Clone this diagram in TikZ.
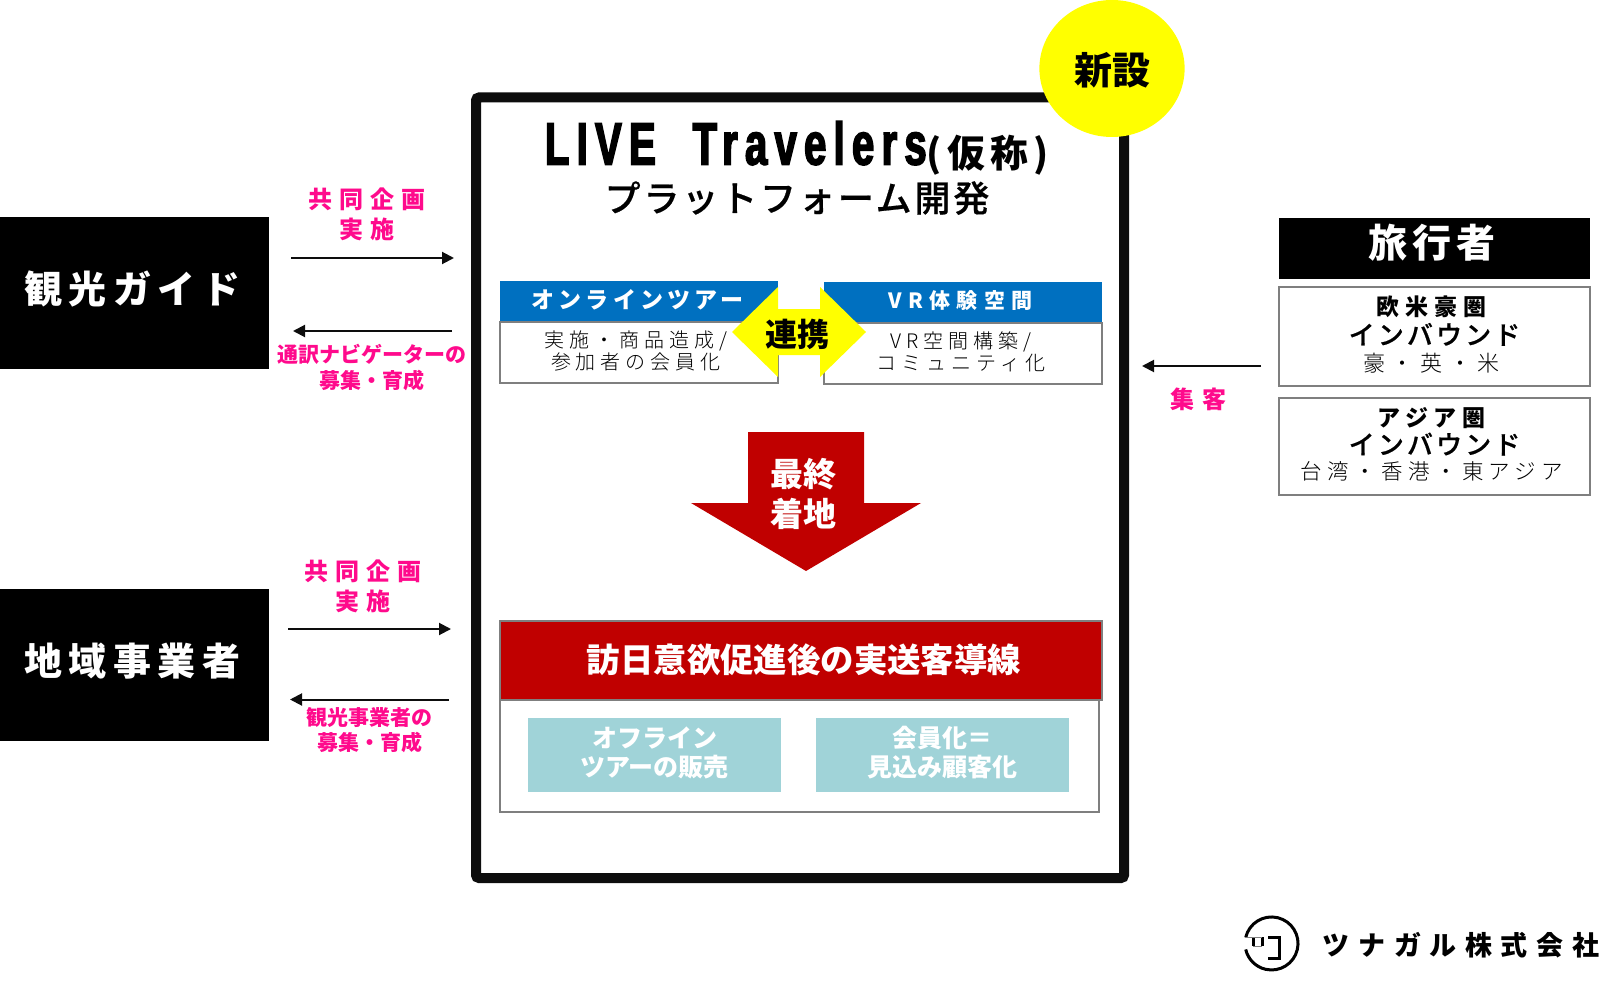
\documentclass[tikz,border=0pt]{standalone}
\usepackage{fontspec}
\usetikzlibrary{arrows.meta}
\setmainfont{Noto Sans CJK JP}
\newfontfamily\titlefont[FakeStretch=0.67,FakeBold=2.5,LetterSpace=12]{Liberation Sans}
\newfontfamily\lightfont{Noto Sans CJK JP Light}
\newfontfamily\mediumfont[FakeBold=0.5]{Noto Sans CJK JP Medium}
\newcommand{\txt}[3]{\fontsize{#1}{#2}\selectfont\addfontfeature{LetterSpace=#3}}
\newcommand{\up}[2]{\raisebox{#1}[\height][\depth]{#2}}
\definecolor{framecol}{HTML}{0D0D0D}
\definecolor{pinkcol}{HTML}{FF0A8C}
\definecolor{bluecol}{HTML}{0070C0}
\definecolor{redcol}{HTML}{C00000}
\definecolor{tealcol}{HTML}{A0D3D8}
\definecolor{graycol}{HTML}{7F7F7F}
\definecolor{yellowcol}{HTML}{FFFF00}
\tikzset{
	blackbox/.style={fill=black,text=white,inner sep=0pt,font=\bfseries\txt{38}{44}{17}},
	whitebox/.style={draw=graycol,line width=2pt,fill=white,inner sep=0pt,align=center},
	bluehead/.style={fill=bluecol,text=white,inner sep=0pt,minimum width=278pt,minimum height=41pt},
	tealbox/.style={fill=tealcol,text=white,inner sep=0pt,align=center,minimum width=253pt,minimum height=74pt,font=\bfseries\txt{25}{30}{0}},
	pinklabel/.style={text=pinkcol,inner sep=0pt,align=center},
	flow/.style={draw=framecol,line width=2pt,-{Triangle[length=12pt,width=12pt]}},
}
\begin{document}
\begin{tikzpicture}[x=1pt,y=-1pt]
\useasboundingbox (0,0) rectangle (1613,984);

% left side
\node[blackbox,minimum width=268.5pt,minimum height=152pt] (guide) at (134.25,293) {\up{4pt}{観光ガイド}\hspace*{4pt}};
\node[blackbox,minimum width=268.5pt,minimum height=152.5pt] (local) at (134.25,664.75) {\up{4pt}{地域事業者}\hspace*{4pt}};

\node[pinklabel,font=\bfseries\txt{24}{30}{30}] (planA) at (367,214.5) {共同企画\\実施};
\node[pinklabel,font=\bfseries\txt{21}{26}{0}] (naviA) at (371.5,367.5) {通訳ナビゲーターの\\募集・育成};
\node[pinklabel,font=\bfseries\txt{24}{30}{30}] (planB) at (363,586) {共同企画\\実施};
\node[pinklabel,font=\bfseries\txt{21}{25}{0}] (naviB) at (369.5,730) {観光事業者の\\募集・育成};

\coordinate (a1) at (291,258);
\coordinate (a2) at (454,258);
\coordinate (b1) at (452,331);
\coordinate (b2) at (293,331);
\coordinate (c1) at (288,629);
\coordinate (c2) at (451,629);
\coordinate (d1) at (449,699.5);
\coordinate (d2) at (290,699.5);
\draw[flow] (a1) -- (a2);
\draw[flow] (b1) -- (b2);
\draw[flow] (c1) -- (c2);
\draw[flow] (d1) -- (d2);

% platform
\node[draw=framecol,line width=10pt,rounded corners=3pt,fill=white,minimum width=648pt,minimum height=780.5pt,inner sep=0pt] (platform) at (800,487.75) {};
\node[circle,fill=yellowcol,inner sep=0pt,minimum size=137pt,xscale=1.06] (shinsetsu) at (1112,68.5) {};
\node[inner sep=0pt,font=\bfseries\txt{38}{44}{0}] (shinsetsuText) at (1112,70) {新設};

\node[inner sep=0pt,align=center,font=\fontsize{40}{47}\selectfont] (title) at (797,168) {{\titlefont\bfseries\fontsize{60}{60}\selectfont LIVE\ \ Travelers}{\bfseries\txt{38}{60}{14}\raisebox{-3pt}{(仮称)}}\\{\mediumfont\txt{36}{44}{8}プラットフォーム開発}};

\node[bluehead,font=\bfseries\txt{23}{26}{18}] (tourHead) at (639,301.5) {\up{2pt}{オンラインツアー}\hspace*{3pt}};
\node[whitebox,minimum width=278pt,minimum height=61pt,font=\lightfont\txt{20}{22}{25}] (tourBody) at (639,352.5) {\up{2pt}{実施・商品造成/}\hspace*{6pt}\\\up{2pt}{参加者の会員化}\hspace*{6pt}};
\node[bluehead,font=\bfseries\txt{21}{26}{30}] (vrHead) at (963,302.5) {\up{2pt}{VR体験空間}\hspace*{5pt}};
\node[whitebox,minimum width=278pt,minimum height=61pt,font=\lightfont\txt{20}{22}{25}] (vrBody) at (963,353.5) {\up{2pt}{VR空間構築/}\hspace*{4pt}\\\up{2pt}{コミュニティ化}\hspace*{4pt}};

\fill[yellowcol] (732,332) -- (778,287) -- (778,309) -- (820,309) -- (820,287) -- (866,332) -- (820,377) -- (820,355) -- (778,355) -- (778,377) -- cycle;
\node[inner sep=0pt,font=\bfseries\txt{32}{38}{0}] (renkei) at (797,334) {連携};

\fill[redcol] (748,432) -- (864,432) -- (864,503) -- (921,503) -- (806,571) -- (691,503) -- (748,503) -- cycle;
\node[inner sep=0pt,align=center,text=white,font=\bfseries\txt{33}{40}{0}] (landing) at (803.5,494) {最終\\着地};

\node[whitebox,minimum width=599pt,minimum height=112pt] (routeBody) at (799.5,756) {};
\node[draw=graycol,line width=2pt,fill=redcol,text=white,inner sep=0pt,minimum width=602pt,minimum height=79pt,font=\bfseries\txt{33.4}{36}{0}] (routeHead) at (801,660.5) {\hspace*{6pt}\up{1pt}{訪日意欲促進後の実送客導線}};
\node[tealbox] (offline) at (654.5,755) {\up{2pt}{オフライン}\\\up{3pt}{ツアーの販売}};
\node[tealbox] (member) at (942.5,755) {\up{2pt}{会員化＝}\\\up{3pt}{見込み顧客化}};

% right side
\node[blackbox,minimum width=311pt,minimum height=61pt,font=\bfseries\txt{39}{44}{12}] (traveler) at (1434.5,248.5) {\up{6pt}{旅行者}\hspace*{5pt}};
\node[whitebox,minimum width=311pt,minimum height=99pt,font=\fontsize{22}{28}\selectfont] (west) at (1434.5,336.5) {\up{2pt}{\bfseries\txt{23}{28}{25}欧米豪圏}\hspace*{6pt}\\\up{1pt}{\mediumfont\txt{26}{28}{12}インバウンド}\hspace*{5pt}\\\up{2pt}{\lightfont\txt{22}{28}{30}豪・英・米}\hspace*{6pt}};
\node[whitebox,minimum width=311pt,minimum height=97pt,font=\fontsize{22}{27}\selectfont] (asia) at (1434.5,446.5) {\up{2pt}{\bfseries\txt{23}{28}{25}アジア圏}\hspace*{6pt}\\\up{1pt}{\mediumfont\txt{26}{28}{12}インバウンド}\hspace*{5pt}\\\up{3pt}{\lightfont\txt{21.5}{25}{25}台湾・香港・東アジア}\hspace*{5pt}};

\node[pinklabel,font=\bfseries\txt{24}{30}{30}] (shukyaku) at (1198.5,399) {集客};
\coordinate (e1) at (1261,366);
\coordinate (e2) at (1142,366);
\draw[flow] (e1) -- (e2);

% logo
\draw[black,line width=3pt] (1245.7,937.5) arc (193:527:26.5);
\draw[black,line width=3pt] (1253,937) -- (1253,946) (1262,937) -- (1262,946) (1268,937) -- (1279,937) -- (1279,958) -- (1268,958);
\draw[graycol,line width=1pt] (1245,937) -- (1262,937) (1253,946) -- (1262,946);
\node[inner sep=0pt,font=\bfseries\txt{27}{30}{32}] (company) at (1461,945) {ツナガル株式会社};
\end{tikzpicture}
\end{document}
